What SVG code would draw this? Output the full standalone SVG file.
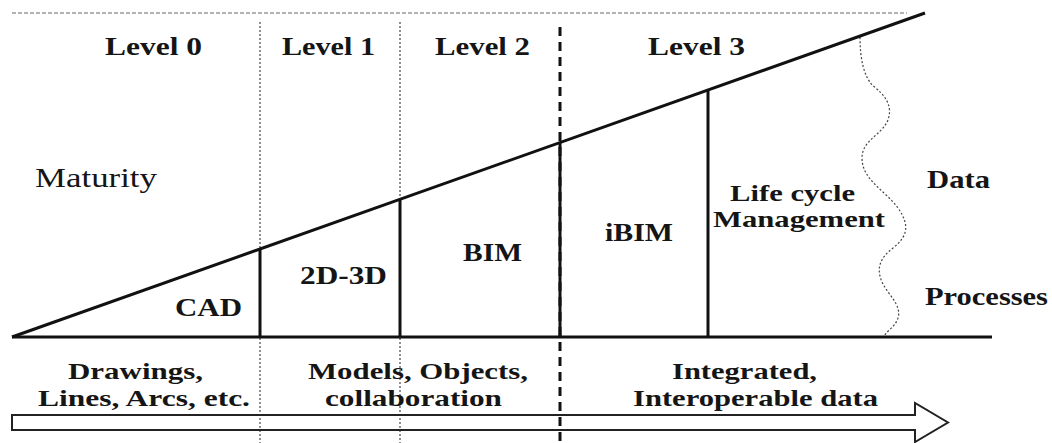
<svg xmlns="http://www.w3.org/2000/svg" width="1052" height="443" viewBox="0 0 1052 443">
<style>
text { font-family: "Liberation Serif", "Times New Roman", serif; fill: #151515; }
.b { font-weight: bold; font-size: 25px; }
.b2 { font-weight: bold; font-size: 23px; }
.lv { font-weight: bold; font-size: 26px; }
.reg { font-size: 28px; }
.main { stroke: #111; stroke-width: 3; fill: none; }
.dot { stroke: #444; stroke-width: 1.2; stroke-dasharray: 2 2; fill: none; }
.dash { stroke: #111; stroke-width: 3; stroke-dasharray: 9 6; fill: none; }
.topdash { stroke: #666; stroke-width: 1.2; stroke-dasharray: 4 2; fill: none; }
</style>
<rect width="1052" height="443" fill="#fff"/>
<g id="connectors">
  <line class="topdash" x1="12" y1="13" x2="907" y2="13"/>
  <line class="dot" x1="260" y1="22" x2="260" y2="443"/>
  <line class="dot" x1="400" y1="22" x2="400" y2="443"/>
  <line class="dash" x1="560" y1="27" x2="560" y2="443"/>
  <path class="dot" d="M860,37 C860,60 864,75 872,85 C885,95 893,105 888,120 C882,135 862,140 862,158 C862,180 885,190 898,208 C912,228 905,238 893,248 C880,258 876,268 882,282 C888,295 902,305 898,318 C895,328 884,332 884,338"/>
  <line class="main" x1="12" y1="337" x2="925" y2="13"/>
  <line class="main" x1="12" y1="337" x2="992" y2="337"/>
  <line class="main" x1="260" y1="249" x2="260" y2="337"/>
  <line class="main" x1="400" y1="199" x2="400" y2="337"/>
  <line class="main" x1="560" y1="142" x2="560" y2="337"/>
  <line class="main" x1="708" y1="91" x2="708" y2="337"/>
  <path id="arrow" d="M12,415 L915,415 L915,403 L948,422.5 L915,442 L915,430 L12,430 Z" fill="none" stroke="#222" stroke-width="2"/>
</g>
<g id="level0"><text class="lv" x="105" y="55" textLength="97" lengthAdjust="spacingAndGlyphs">Level 0</text></g>
<g id="level1"><text class="lv" x="282" y="55" textLength="93" lengthAdjust="spacingAndGlyphs">Level 1</text></g>
<g id="level2"><text class="lv" x="435" y="55" textLength="95" lengthAdjust="spacingAndGlyphs">Level 2</text></g>
<g id="level3"><text class="lv" x="648" y="55" textLength="97" lengthAdjust="spacingAndGlyphs">Level 3</text></g>
<g id="maturity"><text class="reg" x="35" y="187" textLength="122" lengthAdjust="spacingAndGlyphs">Maturity</text></g>
<g id="cad"><text class="b" x="175" y="316" textLength="67" lengthAdjust="spacingAndGlyphs">CAD</text></g>
<g id="d2d3d"><text class="b" x="300" y="284" textLength="87" lengthAdjust="spacingAndGlyphs">2D-3D</text></g>
<g id="bim"><text class="b" x="463" y="261" textLength="59" lengthAdjust="spacingAndGlyphs">BIM</text></g>
<g id="ibim"><text class="b" x="605" y="241" textLength="68" lengthAdjust="spacingAndGlyphs">iBIM</text></g>
<g id="lifecycle">
  <text class="b2" x="730" y="201" textLength="125" lengthAdjust="spacingAndGlyphs">Life cycle</text>
  <text class="b2" x="713" y="227" textLength="172" lengthAdjust="spacingAndGlyphs">Management</text>
</g>
<g id="data"><text class="b" x="927" y="188" textLength="63" lengthAdjust="spacingAndGlyphs">Data</text></g>
<g id="processes"><text class="b" x="925" y="305" textLength="123" lengthAdjust="spacingAndGlyphs">Processes</text></g>
<g id="drawings">
  <text class="b2" x="68" y="379" textLength="135" lengthAdjust="spacingAndGlyphs">Drawings,</text>
  <text class="b2" x="38" y="406" textLength="212" lengthAdjust="spacingAndGlyphs">Lines, Arcs, etc.</text>
</g>
<g id="models">
  <text class="b2" x="308" y="379" textLength="220" lengthAdjust="spacingAndGlyphs">Models, Objects,</text>
  <text class="b2" x="325" y="406" textLength="177" lengthAdjust="spacingAndGlyphs">collaboration</text>
</g>
<g id="integrated">
  <text class="b2" x="672" y="379" textLength="145" lengthAdjust="spacingAndGlyphs">Integrated,</text>
  <text class="b2" x="633" y="406" textLength="245" lengthAdjust="spacingAndGlyphs">Interoperable data</text>
</g>
</svg>
